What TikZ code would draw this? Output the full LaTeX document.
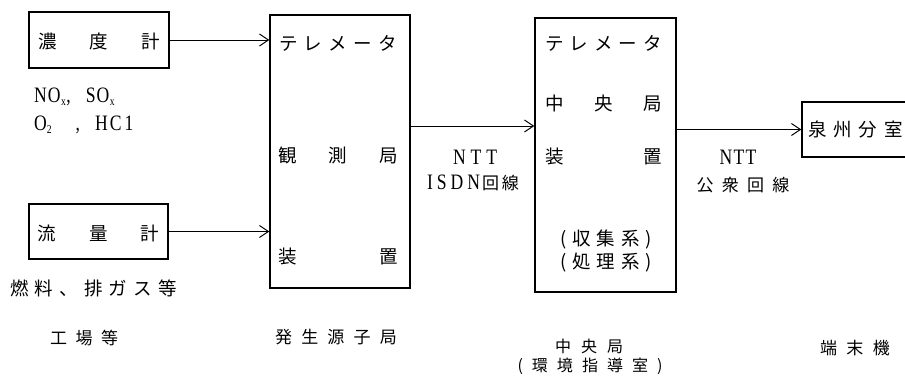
\documentclass[tikz,border=0pt]{standalone}
\usepackage{fontspec}
\setmainfont{Liberation Serif}
\newfontfamily\lat{Liberation Serif}[FakeStretch=0.8]
\newfontfamily\jp{Noto Sans CJK JP}
\usetikzlibrary{arrows.meta}
\newcommand\spr[2]{\hbox to #1pt{#2}}
\newcommand\subsc[1]{{\fontsize{12}{12}\selectfont\raisebox{-3pt}{#1}}}
\begin{document}
\begin{tikzpicture}[x=1pt,y=-1pt,
  box/.style={draw, line width=1.3pt, inner sep=0pt},
  arr/.style={line width=1pt, -{Straight Barb[length=9pt,width=12pt,line width=1pt]}},
  jt/.style={font=\jp\fontsize{18.5}{20}\selectfont, inner sep=0pt},
  js/.style={font=\jp\fontsize{17}{20}\selectfont, inner sep=0pt},
  jb/.style={font=\jp\fontsize{16}{18}\selectfont, inner sep=0pt},
  lt/.style={font=\lat\fontsize{22}{24}\selectfont, inner sep=0pt}]
\useasboundingbox (0,0) rectangle (905,383);
% boxes
\node[box, minimum width=140pt, minimum height=56pt] (c1) at (99,40) {};
\node[box, minimum width=139pt, minimum height=55pt] (c2) at (98.5,231.5) {};
\node[box, minimum width=140pt, minimum height=273pt] (tm) at (340,151.5) {};
\node[box, minimum width=141pt, minimum height=274pt] (ce) at (605.5,155) {};
\node[box, minimum width=106pt, minimum height=55pt] (ts) at (855,129.5) {};
% box texts
\node[jt] (c1t) at (99,41) {\spr{122}{濃\hfill 度\hfill 計}};
\node[jt] (c2t) at (98.5,233) {\spr{122}{流\hfill 量\hfill 計}};
\node[jt] (t1) at (338,43) {\spr{118}{テ\hfill レ\hfill メ\hfill ー\hfill タ}};
\node[jt] (t2) at (338,155) {\spr{120}{観\hfill 測\hfill 局}};
\node[jt] (t3) at (338,257) {\spr{120}{装\hfill 置}};
\node[jt] (u1) at (603.5,43) {\spr{117}{テ\hfill レ\hfill メ\hfill ー\hfill タ}};
\node[jt] (u2) at (603.5,103) {\spr{117}{中\hfill 央\hfill 局}};
\node[jt] (u3) at (603.5,157) {\spr{117}{装\hfill 置}};
\node[jt] (u4) at (606,240) {\spr{92}{(\hfill 収\hfill 集\hfill 系\hfill )}};
\node[jt] (u5) at (606,263) {\spr{92}{(\hfill 処\hfill 理\hfill 系\hfill )}};
\node[jt] (s1) at (855.5,129) {\spr{95}{泉\hfill 州\hfill 分\hfill 室}};
% side labels
\node[lt, anchor=west] (g1) at (34,97) {N\kern1pt O\kern0.5pt\subsc{x}\kern0.5pt,\kern15pt S\kern1pt O\kern0.5pt\subsc{x}};
\node[lt, anchor=west] (g2) at (34,125) {O\subsc{2}\kern24pt,\kern15pt H\kern2pt C\kern3pt 1};
\node[jt] (f1) at (93.5,288) {\spr{167}{燃\hfill 料\hfill 、\hfill 排\hfill ガ\hfill ス\hfill 等}};
\node[js] (b1) at (84,338) {\spr{68}{工\hfill 場\hfill 等}};
\node[js] (b2) at (336,337) {\spr{122}{発\hfill 生\hfill 源\hfill 子\hfill 局}};
\node[jb] (b3) at (589,346) {\spr{68}{中\hfill 央\hfill 局}};
\node[jb] (b4) at (590,366) {\spr{145}{(\hfill 環\hfill 境\hfill 指\hfill 導\hfill 室\hfill )}};
\node[js] (b5) at (855,348) {\spr{70}{端\hfill 末\hfill 機}};
% line labels
\node[lt] (n1) at (475,157) {\spr{44}{N\hfill T\hfill T}};
\node[lt] (n2) at (473,183) {\spr{92}{I\hfill S\hfill D\hfill N\hskip2pt{\jp\fontsize{17}{20}\selectfont 回\hskip3pt 線}}};
\node[lt] (m1) at (738,157) {\spr{37}{N\hfill T\hfill T}};
\node[js] (m2) at (743,185) {\spr{93}{公\hfill 衆\hfill 回\hfill 線}};
% connectors
\draw[arr] (c1.east) -- (c1.east -| tm.west);
\draw[arr] (c2.east) -- (c2.east -| tm.west);
\coordinate (p1) at (410,126);
\draw[arr] (p1) -- (p1 -| ce.west);
\draw[arr] (ce.east |- ts.west) -- (ts.west);
\end{tikzpicture}
\end{document}
